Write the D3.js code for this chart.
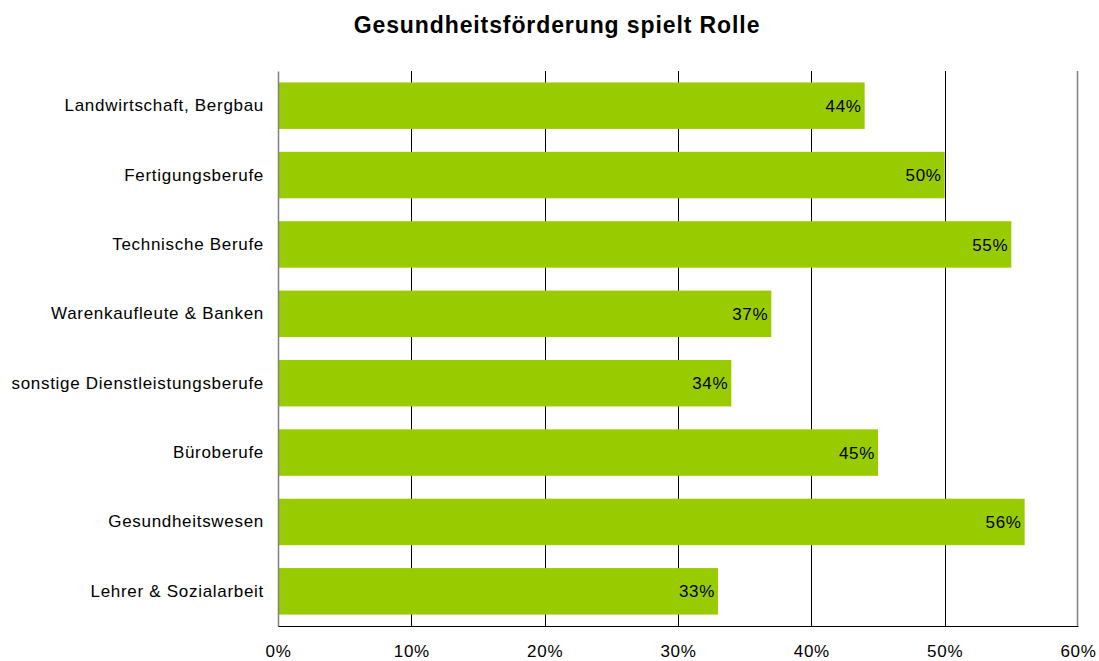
<!DOCTYPE html>
<html>
<head>
<meta charset="utf-8">
<script src="https://cdn.jsdelivr.net/npm/d3@7"></script>
<style>
  html, body { margin: 0; padding: 0; background: #fff; }
  svg { display: block; font-family: "Liberation Sans", Arial, sans-serif; }
</style>
</head>
<body>
<svg id="chart" width="1099" height="661"></svg>
<script>
// Berufsgruppen und Anteile (in %)
const categories = [
  "Landwirtschaft, Bergbau",
  "Fertigungsberufe",
  "Technische Berufe",
  "Warenkaufleute & Banken",
  "sonstige Dienstleistungsberufe",
  "Büroberufe",
  "Gesundheitswesen",
  "Lehrer & Sozialarbeit"
];
const values = [44, 50, 55, 37, 34, 45, 56, 33];
const xTicks = [0, 10, 20, 30, 40, 50, 60];
const title = "Gesundheitsförderung spielt Rolle";

const svg = d3.select("#chart");
const margin = { top: 71, right: 21, bottom: 35, left: 278 };
const W = 1099, H = 661;
const innerW = W - margin.left - margin.right;
const innerH = H - margin.top - margin.bottom;
const labelFont = "'Liberation Sans', Arial, sans-serif";

const x = d3.scaleLinear().domain([0, 60]).range([0, innerW]);
const y = d3.scaleBand().domain(categories).range([0, innerH]).paddingInner(0.33).paddingOuter(0.165);

svg.append("text")
  .attr("x", 557).attr("y", 33)
  .attr("text-anchor", "middle")
  .attr("font-size", 23).attr("font-weight", "bold")
  .attr("letter-spacing", 0.9)
  .text(title);

const g = svg.append("g").attr("transform", `translate(${margin.left},${margin.top})`);

// vertical gridlines
g.selectAll("line.grid")
  .data(xTicks.filter(t => t > 0 && t < 60))
  .join("line")
  .attr("class", "grid")
  .attr("x1", d => Math.round(x(d)) + 0.5).attr("x2", d => Math.round(x(d)) + 0.5)
  .attr("y1", 0).attr("y2", innerH)
  .attr("stroke", "#000").attr("stroke-width", 1);

// right border
g.append("line")
  .attr("x1", innerW - 0.5).attr("x2", innerW - 0.5)
  .attr("y1", 0).attr("y2", innerH)
  .attr("stroke", "#808080").attr("stroke-width", 1.5);

// bars
g.selectAll("rect.bar")
  .data(values)
  .join("rect")
  .attr("class", "bar")
  .attr("x", 0)
  .attr("y", (d, i) => y(categories[i]))
  .attr("width", d => x(d))
  .attr("height", y.bandwidth())
  .attr("fill", "#99CC00");

// value labels
g.selectAll("text.val")
  .data(values)
  .join("text")
  .attr("class", "val")
  .attr("x", d => x(d) - 3)
  .attr("y", (d, i) => y(categories[i]) + y.bandwidth() / 2)
  .attr("dy", "0.36em")
  .attr("text-anchor", "end")
  .attr("font-size", 17)
  .attr("letter-spacing", 0.7)
  .text(d => d + "%");

// category axis
const yAxis = g.append("g").call(d3.axisLeft(y).tickSize(0).tickPadding(14));
yAxis.select(".domain").attr("stroke", "#808080").attr("stroke-width", 1.5);
yAxis.selectAll("text").attr("font-size", 17).attr("fill", "#000")
  .attr("letter-spacing", 0.7)
  .style("font-family", labelFont);

// bottom axis
const xAxis = g.append("g")
  .attr("transform", `translate(0,${innerH})`)
  .call(d3.axisBottom(x).tickValues(xTicks).tickSize(0).tickPadding(19).tickFormat(d => d + "%"));
xAxis.select(".domain").attr("stroke", "#000").attr("stroke-width", 1);
xAxis.selectAll("text").attr("font-size", 17).attr("fill", "#000")
  .attr("letter-spacing", 0.7)
  .style("font-family", labelFont);
</script>
</body>
</html>
